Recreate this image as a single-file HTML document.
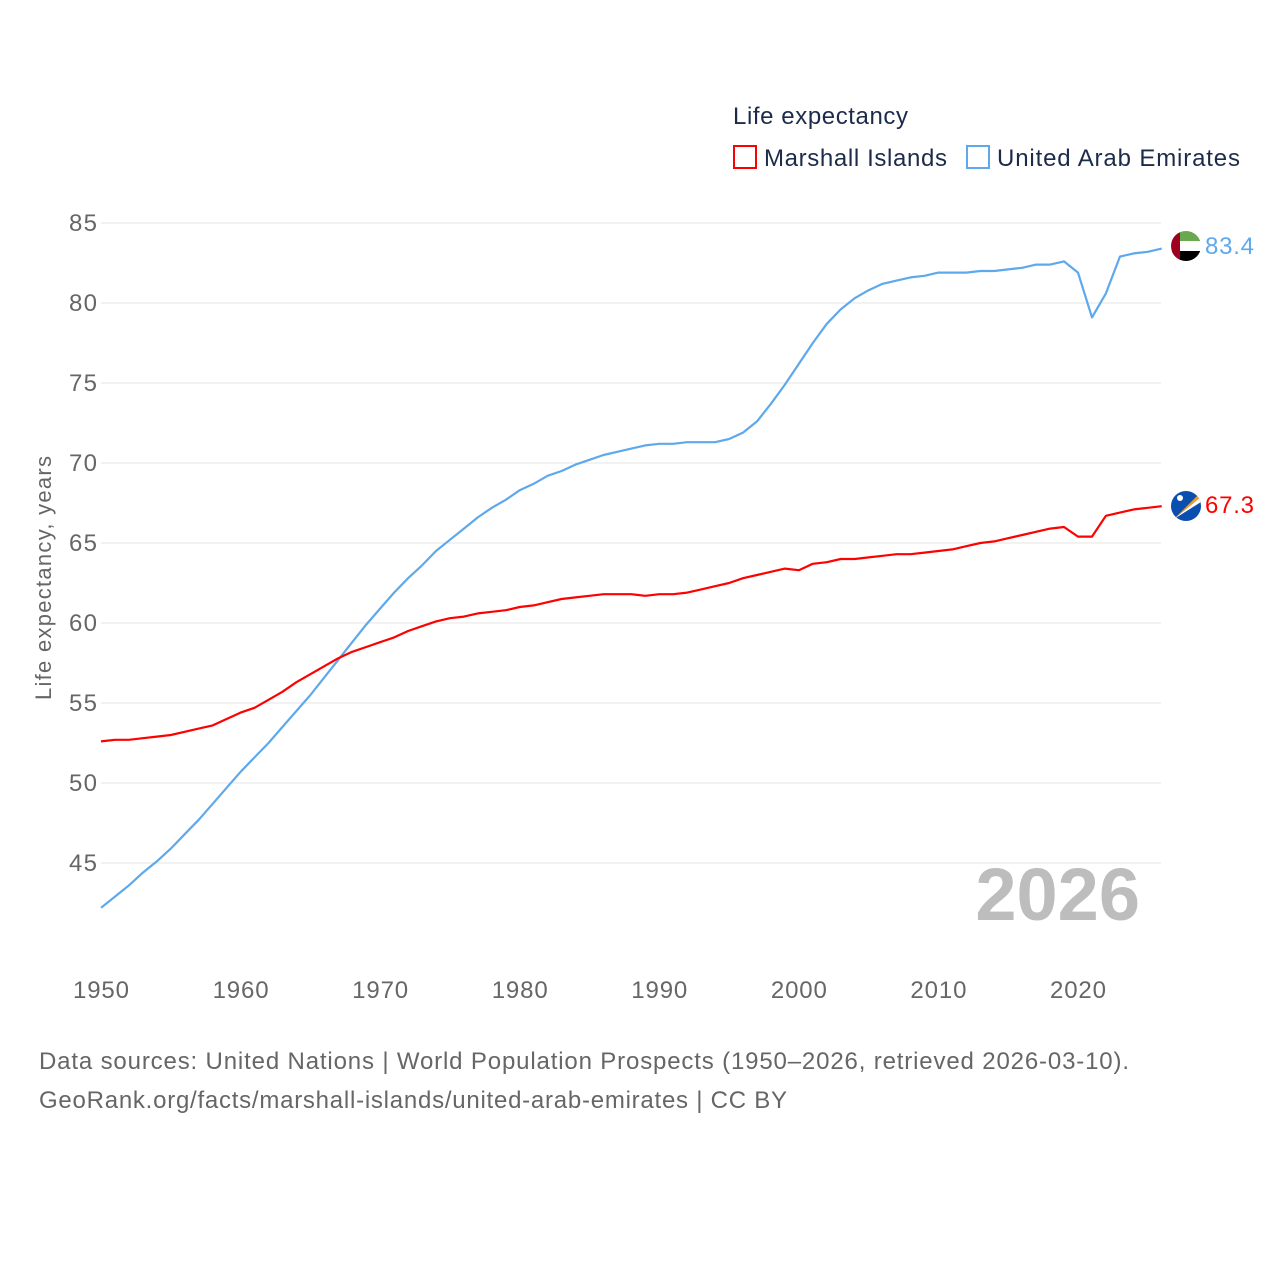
<!DOCTYPE html>
<html><head><meta charset="utf-8"><style>
body{margin:0;background:#fff;font-family:"Liberation Sans",sans-serif}
</style></head><body>
<svg width="1280" height="1280" viewBox="0 0 1280 1280" xmlns="http://www.w3.org/2000/svg" font-family="Liberation Sans, sans-serif">
<text x="733" y="124" font-size="24" fill="#1d2b4a" textLength="175">Life expectancy</text>
<g><rect x="734" y="146" width="22" height="22" fill="none" stroke="#f00" stroke-width="2"/><text x="764" y="166" font-size="24" fill="#1d2b4a" textLength="183">Marshall Islands</text></g>
<g><rect x="967" y="146" width="22" height="22" fill="none" stroke="#5ea8ec" stroke-width="2"/><text x="997" y="166" font-size="24" fill="#1d2b4a" textLength="243">United Arab Emirates</text></g>
<g id="grid"></g>
<g id="yticks"></g>
<g id="xticks"></g>
<text transform="translate(51,578) rotate(-90)" text-anchor="middle" font-size="22" fill="#666" textLength="244">Life expectancy, years</text>
<text x="1140" y="920" text-anchor="end" font-size="74" font-weight="bold" fill="#bdbdbd">2026</text>
<g id="series"></g>
<g>
<clipPath id="c1"><circle cx="1186" cy="246" r="15"/></clipPath>
<g clip-path="url(#c1)"><rect x="1171" y="231" width="30" height="10" fill="#6aa84f"/><rect x="1171" y="241" width="30" height="10" fill="#fff"/><rect x="1171" y="251" width="30" height="10" fill="#000"/><rect x="1171" y="231" width="9" height="30" fill="#a00020"/></g></g>
<g>
<clipPath id="c2"><circle cx="1186" cy="506" r="15"/></clipPath>
<g clip-path="url(#c2)"><rect x="1171" y="491" width="30" height="30" fill="#0a4fb0"/><polygon points="1174,519 1201,492 1201,497" fill="#f59a1b"/><polygon points="1174,519 1201,497 1201,502" fill="#fff"/><circle cx="1180" cy="498" r="3" fill="#fff"/></g></g>
<text x="1205" y="254" font-size="24" fill="#5ea8ec" textLength="49">83.4</text>
<text x="1205" y="513" font-size="24" fill="#f00" textLength="49">67.3</text>
<text x="39" y="1069" font-size="24" fill="#666" textLength="1090">Data sources: United Nations | World Population Prospects (1950–2026, retrieved 2026-03-10).</text>
<text x="39" y="1108" font-size="24" fill="#666" textLength="748">GeoRank.org/facts/marshall-islands/united-arab-emirates | CC BY</text>
</svg>
<script>
const years=[];for(let y=1950;y<=2026;y++)years.push(y);
const yTicks=[45,50,55,60,65,70,75,80,85];
const xTicks=[1950,1960,1970,1980,1990,2000,2010,2020];
const marshall=[52.6,52.7,52.7,52.8,52.9,53.0,53.2,53.4,53.6,54.0,54.4,54.7,55.2,55.7,56.3,56.8,57.3,57.8,58.2,58.5,58.8,59.1,59.5,59.8,60.1,60.3,60.4,60.6,60.7,60.8,61.0,61.1,61.3,61.5,61.6,61.7,61.8,61.8,61.8,61.7,61.8,61.8,61.9,62.1,62.3,62.5,62.8,63.0,63.2,63.4,63.3,63.7,63.8,64.0,64.0,64.1,64.2,64.3,64.3,64.4,64.5,64.6,64.8,65.0,65.1,65.3,65.5,65.7,65.9,66.0,65.4,65.4,66.7,66.9,67.1,67.2,67.3];
const uae=[42.2,42.9,43.6,44.4,45.1,45.9,46.8,47.7,48.7,49.7,50.7,51.6,52.5,53.5,54.5,55.5,56.6,57.7,58.8,59.9,60.9,61.9,62.8,63.6,64.5,65.2,65.9,66.6,67.2,67.7,68.3,68.7,69.2,69.5,69.9,70.2,70.5,70.7,70.9,71.1,71.2,71.2,71.3,71.3,71.3,71.5,71.9,72.6,73.7,74.9,76.2,77.5,78.7,79.6,80.3,80.8,81.2,81.4,81.6,81.7,81.9,81.9,81.9,82.0,82.0,82.1,82.2,82.4,82.4,82.6,81.9,79.1,80.6,82.9,83.1,83.2,83.4];
const NS='http://www.w3.org/2000/svg';
const X=v=>101+(v-1950)*(1078-101)/70;
const Y=v=>223+(85-v)*16;
function mk(tag,attrs,parent){const e=document.createElementNS(NS,tag);for(const k in attrs)e.setAttribute(k,attrs[k]);document.getElementById(parent).appendChild(e);return e;}
yTicks.forEach(t=>{
 const l=mk('line',{x1:101,x2:1161,y1:Y(t),y2:Y(t),stroke:'#e6e6e6','stroke-width':1},'grid');
 
 
 const tx=mk('text',{x:97,y:Y(t)+8,'text-anchor':'end','font-size':24,fill:'#666',textLength:28},'yticks');
 tx.textContent=t;
 
 
});
xTicks.forEach(t=>{
 const tx=mk('text',{x:X(t),y:998,'text-anchor':'middle','font-size':24,fill:'#666',textLength:56},'xticks');
 tx.textContent=t;
 
 
});
function line(vals,color,name){
 const d=vals.map((v,i)=>(i?'L':'M')+X(years[i]).toFixed(1)+','+Y(v).toFixed(1)).join('');
 const p=mk('path',{d:d,fill:'none',stroke:color,'stroke-width':2.2,'stroke-linejoin':'round'},'series');
 
 
}
line(uae,'#5ea8ec','uae-line');
line(marshall,'#f00','marshall-islands-line');
</script>
</body></html>
